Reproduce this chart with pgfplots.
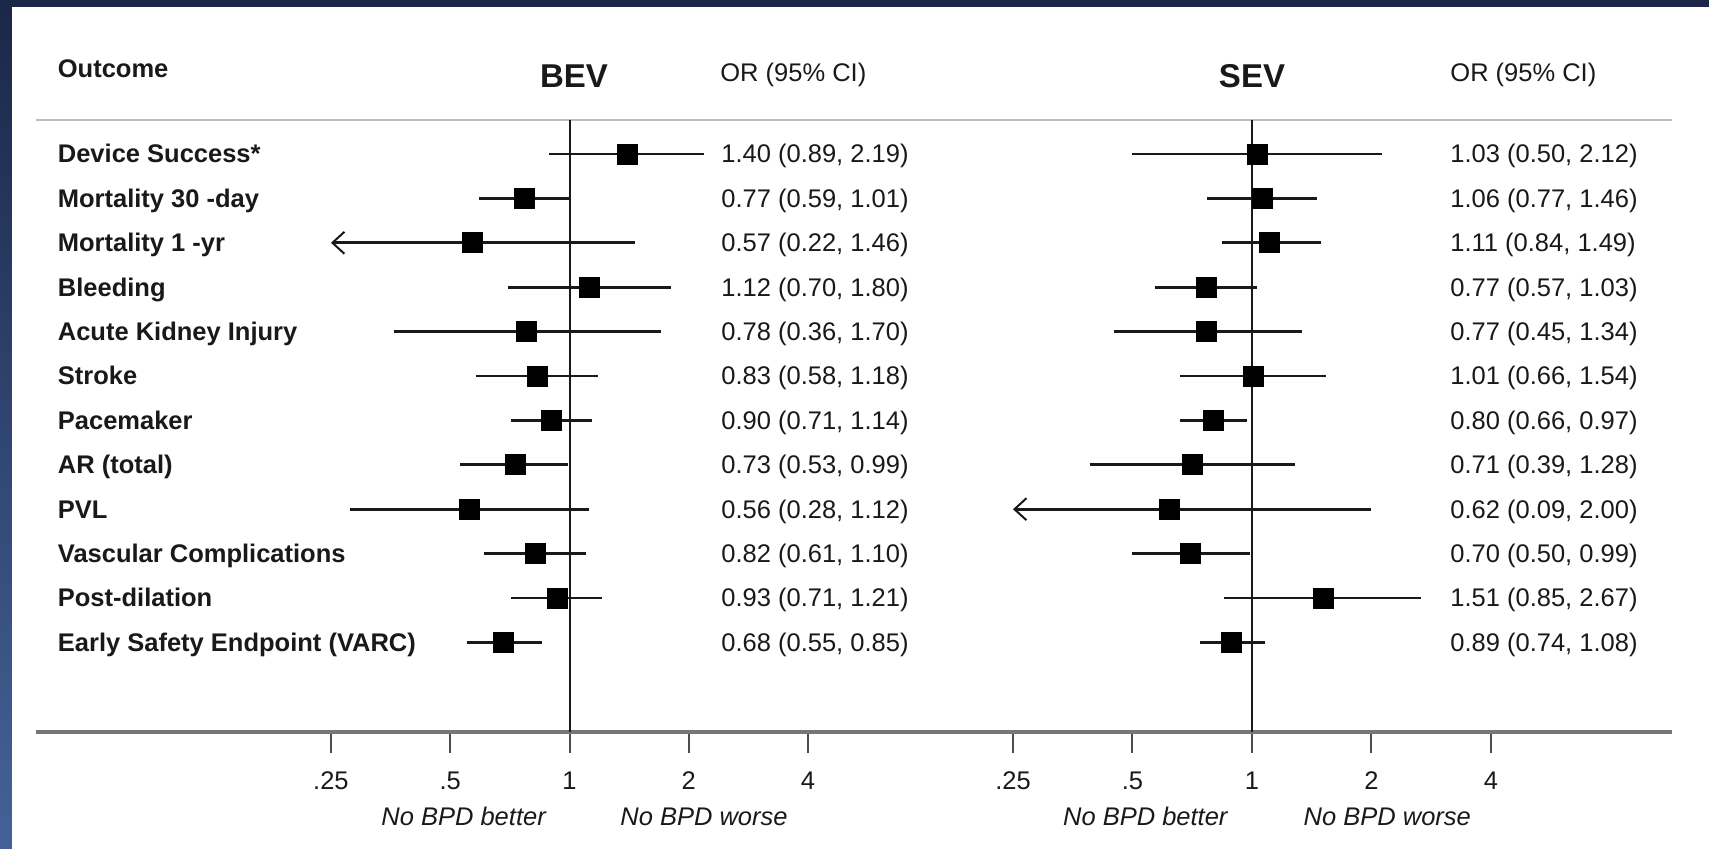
\documentclass[border=0pt]{standalone}
\usepackage{fontspec}
\setmainfont{Liberation Sans}
\usepackage{pgfplots}
\pgfplotsset{compat=1.18}
\usepackage{pgfplotstable}
\usetikzlibrary{arrows.meta}

\definecolor{navytop}{RGB}{27,39,72}
\definecolor{navybot}{RGB}{68,98,152}
\definecolor{axgray}{RGB}{118,118,118}
\definecolor{topgray}{RGB}{190,190,190}
\definecolor{txt}{RGB}{25,25,25}

\newcommand\fs{\fontsize{12.75}{15}\selectfont}

\pgfplotstableread{
row or
1  1.40
2  0.77
3  0.57
4  1.12
5  0.78
6  0.83
7  0.90
8  0.73
9  0.56
10 0.82
11 0.93
12 0.68
}\bev
\pgfplotstableread{
row or
1  1.03
2  1.06
3  1.11
4  0.77
5  0.77
6  1.01
7  0.80
8  0.71
9  0.62
10 0.70
11 1.51
12 0.89
}\sev

\pgfplotsset{
  ci/.style={line width=1.35pt, color=txt, forget plot},
  arr/.style={line width=1.35pt, color=txt, forget plot, {Straight Barb[length=6pt,width=11pt,line width=1pt]}-},
  sq/.style={only marks, mark=square*, mark size=5pt, mark options={fill=black, draw=black, line width=0.5pt}},
}

\begin{document}
\begin{tikzpicture}
\useasboundingbox (0,0) rectangle (854.5pt,-424.5pt);
\begin{scope}[x=0.5pt,y=-0.5pt]
  \shade[top color=navytop, bottom color=navybot] (0,0) rectangle (1709,849);
  \fill[white] (12,7) rectangle (1709,849);
  \draw[topgray, line width=1pt] (36,120) -- (1672,120);
\end{scope}

% ---------------- BEV ----------------
\begin{axis}[at={(18pt,-366pt)}, anchor=south west,
    xmode=log, log basis x=2, xmin=0.04504, xmax=5.223,
    scale only axis, width=409pt, height=306pt,
    y dir=reverse, ymin=0.2342, ymax=14.018,
    axis x line*=bottom, axis y line=none,
    x axis line style={line width=2pt, color=axgray, -},
    xtick={0.25,0.5,1,2,4}, xticklabels={.25,.5,1,2,4},
    xminorticks=false,
    tick align=outside, major tick length=10.5pt,
    x tick style={line width=1pt, color=black!70},
    ytick=\empty, clip=false,
    xticklabel style={font=\fs, text=txt, yshift=-6pt}]
  \draw[line width=1pt, txt] (axis cs:1,0.2342) -- (axis cs:1,14.018);
  \addplot[ci] coordinates {(0.89,1) (2.19,1)};
  \addplot[ci] coordinates {(0.59,2) (1.01,2)};
  \addplot[arr] coordinates {(0.25,3) (1.46,3)}; % lower 0.22 clipped at .25
  \addplot[ci] coordinates {(0.70,4) (1.80,4)};
  \addplot[ci] coordinates {(0.36,5) (1.70,5)};
  \addplot[ci] coordinates {(0.58,6) (1.18,6)};
  \addplot[ci] coordinates {(0.71,7) (1.14,7)};
  \addplot[ci] coordinates {(0.53,8) (0.99,8)};
  \addplot[ci] coordinates {(0.28,9) (1.12,9)};
  \addplot[ci] coordinates {(0.61,10) (1.10,10)};
  \addplot[ci] coordinates {(0.71,11) (1.21,11)};
  \addplot[ci] coordinates {(0.55,12) (0.85,12)};
  \addplot[sq] table[x=or, y=row] {\bev};
\end{axis}

% ---------------- SEV ----------------
\begin{axis}[at={(427pt,-366pt)}, anchor=south west,
    xmode=log, log basis x=2, xmin=0.09941, xmax=11.43,
    scale only axis, width=409pt, height=306pt,
    y dir=reverse, ymin=0.2342, ymax=14.018,
    axis x line*=bottom, axis y line=none,
    x axis line style={line width=2pt, color=axgray, -},
    xtick={0.25,0.5,1,2,4}, xticklabels={.25,.5,1,2,4},
    xminorticks=false,
    tick align=outside, major tick length=10.5pt,
    x tick style={line width=1pt, color=black!70},
    ytick=\empty, clip=false,
    xticklabel style={font=\fs, text=txt, yshift=-6pt}]
  \draw[line width=1pt, txt] (axis cs:1,0.2342) -- (axis cs:1,14.018);
  \addplot[ci] coordinates {(0.50,1) (2.12,1)};
  \addplot[ci] coordinates {(0.77,2) (1.46,2)};
  \addplot[ci] coordinates {(0.84,3) (1.49,3)};
  \addplot[ci] coordinates {(0.57,4) (1.03,4)};
  \addplot[ci] coordinates {(0.45,5) (1.34,5)};
  \addplot[ci] coordinates {(0.66,6) (1.54,6)};
  \addplot[ci] coordinates {(0.66,7) (0.97,7)};
  \addplot[ci] coordinates {(0.39,8) (1.28,8)};
  \addplot[arr] coordinates {(0.25,9) (2.00,9)}; % lower 0.09 clipped at .25
  \addplot[ci] coordinates {(0.50,10) (0.99,10)};
  \addplot[ci] coordinates {(0.85,11) (2.67,11)};
  \addplot[ci] coordinates {(0.74,12) (1.08,12)};
  \addplot[sq] table[x=or, y=row] {\sev};
\end{axis}

\begin{scope}[x=0.5pt,y=-0.5pt, every node/.style={inner sep=0pt, text=txt}]
  \node[anchor=base west, font=\fs\bfseries] at (57.5,78) {Outcome};
  \node[anchor=base, font=\fontsize{16.5}{19}\selectfont\bfseries] at (574,88) {BEV};
  \node[anchor=base west, font=\fs] at (720,81.5) {OR (95\% CI)};
  \node[anchor=base, font=\fontsize{16.5}{19}\selectfont\bfseries] at (1252,88) {SEV};
  \node[anchor=base west, font=\fs] at (1450,81.5) {OR (95\% CI)};
  \foreach \lab [count=\k] in {Device Success*, Mortality 30 -day, Mortality 1 -yr, Bleeding,
      Acute Kidney Injury, Stroke, Pacemaker, AR (total), PVL, Vascular Complications,
      Post-dilation, Early Safety Endpoint (VARC)}
    \node[anchor=base west, font=\fs\bfseries] at (57.5,{154+(\k-1)*44.4+9}) {\lab};
  \foreach \v [count=\k] in {{1.40 (0.89, 2.19)},{0.77 (0.59, 1.01)},{0.57 (0.22, 1.46)},
      {1.12 (0.70, 1.80)},{0.78 (0.36, 1.70)},{0.83 (0.58, 1.18)},{0.90 (0.71, 1.14)},
      {0.73 (0.53, 0.99)},{0.56 (0.28, 1.12)},{0.82 (0.61, 1.10)},{0.93 (0.71, 1.21)},
      {0.68 (0.55, 0.85)}}
    \node[anchor=base west, font=\fs] at (721,{154+(\k-1)*44.4+9}) {\v};
  \foreach \v [count=\k] in {{1.03 (0.50, 2.12)},{1.06 (0.77, 1.46)},{1.11 (0.84, 1.49)},
      {0.77 (0.57, 1.03)},{0.77 (0.45, 1.34)},{1.01 (0.66, 1.54)},{0.80 (0.66, 0.97)},
      {0.71 (0.39, 1.28)},{0.62 (0.09, 2.00)},{0.70 (0.50, 0.99)},{1.51 (0.85, 2.67)},
      {0.89 (0.74, 1.08)}}
    \node[anchor=base west, font=\fs] at (1450,{154+(\k-1)*44.4+9}) {\v};
  \node[anchor=base, font=\fs\itshape] at (463.6,826) {No BPD better};
  \node[anchor=base, font=\fs\itshape] at (704,826) {No BPD worse};
  \node[anchor=base, font=\fs\itshape] at (1145.3,826) {No BPD better};
  \node[anchor=base, font=\fs\itshape] at (1387.3,826) {No BPD worse};
\end{scope}
\end{tikzpicture}
\end{document}
